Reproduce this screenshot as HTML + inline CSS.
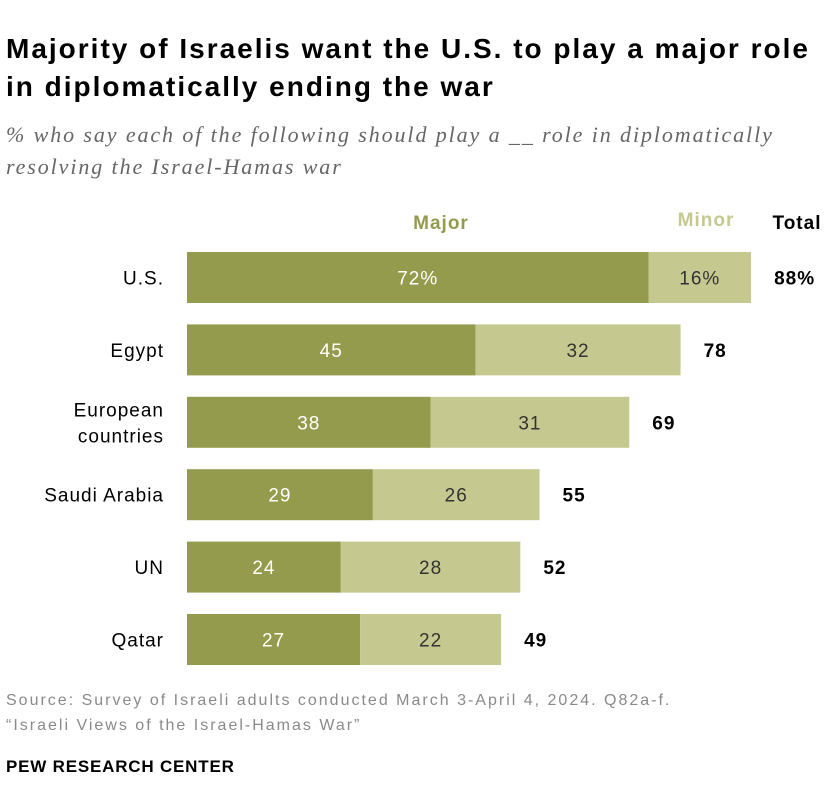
<!DOCTYPE html>
<html><head><meta charset="utf-8"><style>
body{margin:0;width:840px;height:812px;background:#fff;font-family:"Liberation Sans",sans-serif;position:relative;overflow:hidden}
.t{position:absolute;white-space:nowrap}
svg text{letter-spacing:1px}
</style></head><body>
<div class="t" style="left:6px;top:30px;font-size:28px;font-weight:bold;line-height:38px;color:#000;letter-spacing:2px">Majority of Israelis want the U.S. to play a major role<br>in diplomatically ending the war</div>
<div class="t" style="left:6px;top:119px;font-family:'Liberation Serif',serif;font-style:italic;font-size:22px;line-height:32px;color:#666;letter-spacing:1.9px">% who say each of the following should play a __ role in diplomatically<br>resolving the Israel-Hamas war</div>
<svg id="c" width="840" height="690" style="position:absolute;left:0;top:0"></svg>
<div class="t" style="left:6px;top:688px;font-size:16px;line-height:25px;color:#8a8a8a;letter-spacing:2px">Source: Survey of Israeli adults conducted March 3-April 4, 2024. Q82a-f.<br>“Israeli Views of the Israel-Hamas War”</div>
<div class="t" style="left:6px;top:757px;font-size:17px;font-weight:bold;color:#000;letter-spacing:0.8px">PEW RESEARCH CENTER</div>
<script>
const categories=["U.S.","Egypt","European countries","Saudi Arabia","UN","Qatar"];
const major=[72,45,38,29,24,27];
const minor=[16,32,31,26,28,22];
const totals=[88,78,69,55,52,49];
const svg=document.getElementById('c');
const NS='http://www.w3.org/2000/svg';
const x0=187,sc=6.41,y0=252,step=72.4,bh=51;
const X=v=>x0+v*sc;
function el(t,a,txt){const e=document.createElementNS(NS,t);for(const k in a)e.setAttribute(k,a[k]);if(txt!==undefined)e.textContent=txt;svg.appendChild(e);return e;}
let h=el('text',{x:441,y:229,'text-anchor':'middle','font-size':19,'font-weight':'bold',fill:'#949b4c'},'Major');

h=el('text',{x:706,y:226,'text-anchor':'middle','font-size':19,'font-weight':'bold',fill:'#c5c98f'},'Minor');

h=el('text',{x:797,y:229,'text-anchor':'middle','font-size':19,'font-weight':'bold',fill:'#000'},'Total');

categories.forEach((c,i)=>{
  const y=y0+i*step,cy=y+bh/2;
  let r=el('rect',{x:X(0),y:y,width:X(major[i])-X(0),height:bh,fill:'#949b4c'});
  
  r=el('rect',{x:X(major[i]),y:y,width:X(major[i]+minor[i])-X(major[i]),height:bh,fill:'#c5c98f'});
  
  let t=el('text',{x:(X(0)+X(major[i]))/2,y:cy+7,'text-anchor':'middle','font-size':19,fill:'#fff'},major[i]+(i==0?'%':''));
  
  t=el('text',{x:(X(major[i])+X(major[i]+minor[i]))/2,y:cy+7,'text-anchor':'middle','font-size':19,fill:'#333'},minor[i]+(i==0?'%':''));
  
  t=el('text',{x:X(major[i]+minor[i])+23,y:cy+7,'font-size':19,'font-weight':'bold',fill:'#000'},totals[i]+(i==0?'%':''));
  
  const parts=c==="European countries"?["European","countries"]:[c];
  parts.forEach((p,j)=>{
    const ly=parts.length==2?cy-6+j*26:cy+7;
    const l=el('text',{x:164,y:ly,'text-anchor':'end','font-size':19,fill:'#000','letter-spacing':'1.6px'},p);
    
  });
});
</script>
</body></html>
